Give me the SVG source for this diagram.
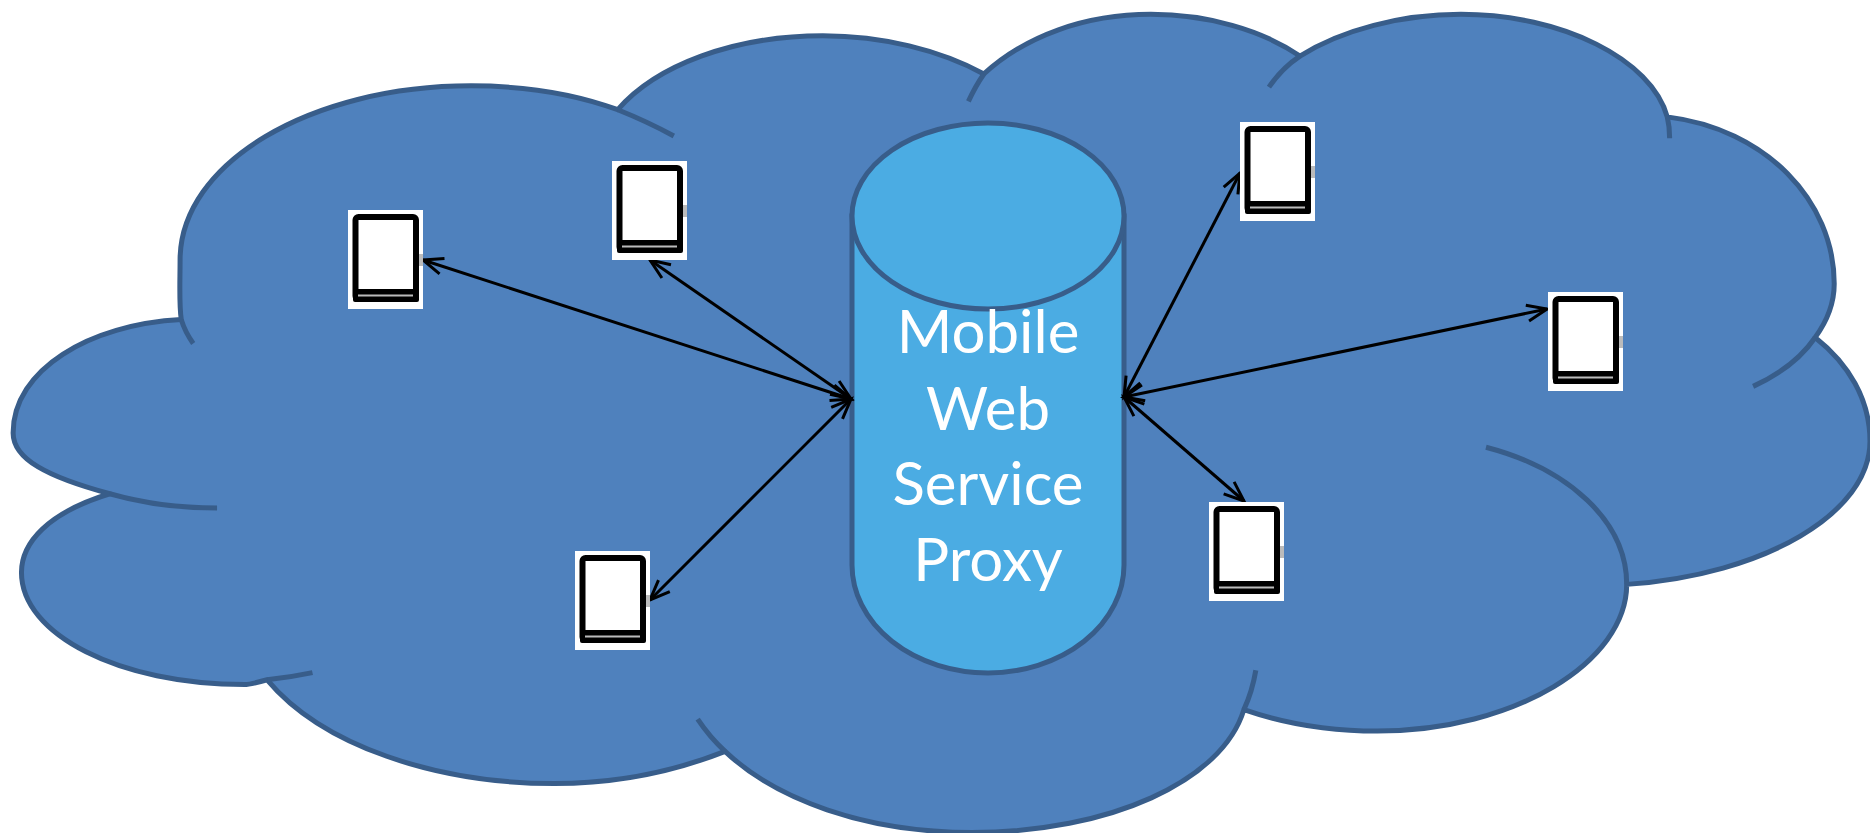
<svg xmlns="http://www.w3.org/2000/svg" width="1870" height="833" viewBox="0 0 1870 833">
<style>
.cloud{fill:#4f81bd;stroke:#385d8a;stroke-width:4.2;stroke-linejoin:round}
.inner{fill:none;stroke:#385d8a;stroke-width:4.2}
.cyl{fill:#4bace3;stroke:#385d8a;stroke-width:5}
.lbl{font-family:Lato,"Open Sans",sans-serif;font-size:60px;fill:#fff;text-anchor:middle}
.conn{fill:none;stroke:#000;stroke-width:3;marker-start:url(#a);marker-end:url(#a)}
.bg{fill:#fff}.frame{fill:#fff;stroke:#000;stroke-width:6;stroke-linejoin:round}
.bar{fill:#000}.gl{stroke:#bbb;stroke-width:2}.blur{fill:#777;opacity:.5}
</style>
<defs>
<marker id="a" viewBox="-24 -12 28 24" refX="0" refY="0" markerUnits="userSpaceOnUse" markerWidth="28" markerHeight="24" orient="auto-start-reverse"><path d="M-20,-8 L0,0 L-20,8" fill="none" stroke="#000" stroke-width="3"/></marker>
<filter id="soft" x="-5%" y="-5%" width="110%" height="110%"><feGaussianBlur stdDeviation="0.6"/></filter>
<g id="dev"><rect class="bg" width="75" height="99"/><g filter="url(#soft)"><rect class="frame" x="7.5" y="7" width="60.5" height="82" rx="3"/><rect class="bar" x="5" y="79" width="66" height="13" rx="2"/><line class="gl" x1="10" y1="85.5" x2="65" y2="85.5"/><rect class="blur" x="71" y="44" width="4" height="12"/></g></g>
</defs>
<g id="cloud" transform="scale(1.1926)">
<path class="cloud" d="M92,414 C40,400 11,385 11,363 C11,310 75,272 152,268 C150,255 151,236 151,218 C151,137 260,72 395,72 C440,72 480,78 518,92 C550,55 615,30 690,30 C740,30 788,42 825,62 C860,30 910,12 965,12 C1012,12 1058,25 1090,47 C1125,25 1175,12 1225,12 C1310,12 1385,50 1398,98 C1480,108 1538,168 1538,238 C1538,252 1533,268 1522,283 C1550,305 1568,335 1568,370 C1568,430 1480,482 1364,490 C1364,555 1270,613 1155,613 C1115,613 1075,606 1043,595 C1025,655 930,698 815,698 C725,698 650,670 608,630 C565,647 515,657 465,657 C365,657 270,625 224,570 C217,572 210,574 205,574 C100,574 18,532 18,480 C18,455 40,430 92,414 Z"/>
<path class="inner" d="M92,414 C120,422 150,426 182,426 M224,570 Q243,568 262,564 M608,630 Q595,618 585,603 M1043,595 Q1050,580 1053,562 M1364,490 C1364,437 1315,393 1246,375 M1522,283 Q1505,308 1470,324 M1398,98 Q1400,106 1400,116 M1090,47 Q1075,57 1064,73 M825,62 Q818,72 812,85 M518,92 Q543,102 565,114 M152,268 Q155,278 162,288"/>
</g>
<g id="proxy">
<path class="cyl" d="M852,216 V565 A136,108 0 0 0 1124,565 V216 Z"/>
<ellipse class="cyl" cx="988" cy="216" rx="136" ry="93"/>
<text class="lbl" x="988" y="353">Mobile</text>
<text class="lbl" x="988" y="430">Web</text>
<text class="lbl" x="988" y="505">Service</text>
<text class="lbl" x="988" y="581">Proxy</text>
</g>
<g id="connectors">
<line class="conn" x1="851" y1="399" x2="423" y2="260"/>
<line class="conn" x1="851" y1="399" x2="650" y2="260"/>
<line class="conn" x1="851" y1="399" x2="650" y2="600"/>
<line class="conn" x1="1124" y1="397" x2="1240" y2="173"/>
<line class="conn" x1="1124" y1="397" x2="1547" y2="309"/>
<line class="conn" x1="1124" y1="397" x2="1244" y2="501"/>
</g>
<g id="device1"><use href="#dev" x="348" y="210"/></g>
<g id="device2"><use href="#dev" x="612" y="161"/></g>
<g id="device3"><use href="#dev" x="575" y="551"/></g>
<g id="device4"><use href="#dev" x="1240" y="122"/></g>
<g id="device5"><use href="#dev" x="1548" y="292"/></g>
<g id="device6"><use href="#dev" x="1209" y="502"/></g>
</svg>
